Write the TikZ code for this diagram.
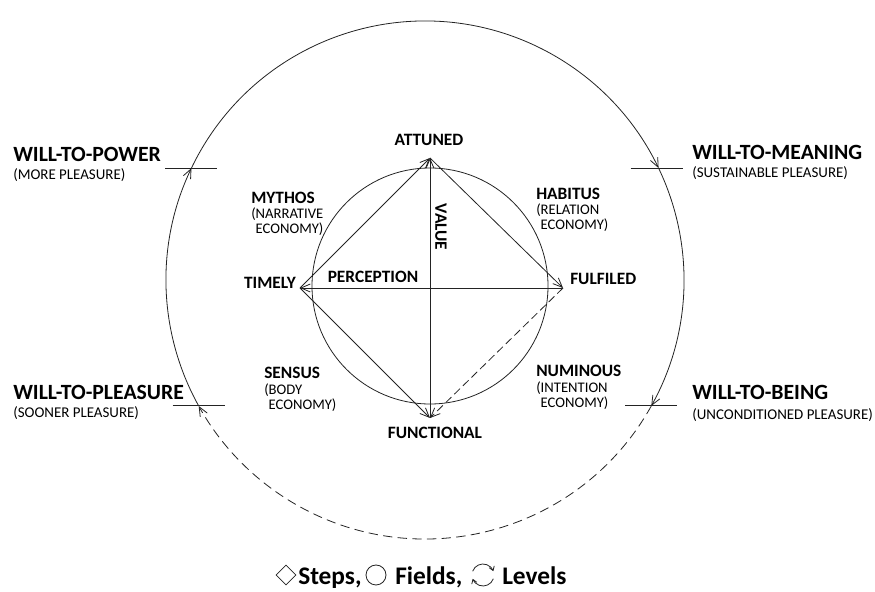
\documentclass[tikz,border=0pt]{standalone}
\usepackage{fontspec}
\setmainfont{Carlito}
\usepackage{xcolor}
\usepackage{tikz}
\usetikzlibrary{arrows.meta, positioning, calc, shapes.geometric}
\definecolor{ink}{RGB}{35, 35, 35}

\begin{document}
\begin{tikzpicture}[
    x=0.75pt, y=0.75pt,
    >={Straight Barb[length=7pt, width=6pt]},
    will/.style={anchor=west, inner sep=0pt, font=\fontsize{16.3}{18}\selectfont\bfseries},
    wsub/.style={anchor=west, inner sep=0pt, font=\fontsize{11.2}{13}\selectfont},
    pnt/.style={inner sep=0pt, font=\fontsize{13}{15}\selectfont\bfseries},
    field/.style={anchor=north west, inner sep=0pt, font=\fontsize{13}{15}\selectfont\bfseries},
    fsub/.style={anchor=north west, inner sep=0pt, align=left,
      font=\fontsize{11}{8.4}\selectfont},
    line/.style={line width=0.6pt, draw=ink},
    ring/.style={line, ->},
    side/.style={line, ->},
    tick/.style={line width=0.8pt, draw=ink},
    leg/.style={anchor=base west, inner sep=0pt, font=\fontsize{19}{21}\selectfont\bfseries},
    icon/.style={draw=ink, line width=0.6pt, inner sep=0pt}
  ]
  \useasboundingbox (0,0) rectangle (875,592);

  % outer ring: the four wills
  \coordinate (oc) at (425,312);
  \coordinate (pw) at ($(oc)+(154.4:259)$);
  \coordinate (mn) at ($(oc)+(25.6:259)$);
  \coordinate (bg) at ($(oc)+(-29.1:259)$);
  \coordinate (pl) at ($(oc)+(209.1:259)$);

  \draw[ring] (pl) arc[start angle=209.1, end angle=154.4, radius=259];
  \draw[ring] (pw) arc[start angle=154.4, end angle=25.6, radius=259];
  \draw[ring] (mn) arc[start angle=25.6, end angle=-29.1, radius=259];
  \draw[ring, dash pattern=on 7pt off 4pt] (bg) arc[start angle=330.9, end angle=209.1, radius=259];

  \draw[tick] (pw) +(-26,0) -- +(26,0);
  \draw[tick] (mn) +(-28,0) -- +(24,0);
  \draw[tick] (bg) +(-26,0) -- +(26,0);
  \draw[tick] (pl) +(-26,0) -- +(26,0);

  \node[will] (power) at (13,438) {WILL-TO-POWER};
  \node[wsub] (powers) at (13,417) {(MORE PLEASURE)};
  \node[will] (meaning) at (692,440) {WILL-TO-MEANING};
  \node[wsub] (meanings) at (692,419) {(SUSTAINABLE PLEASURE)};
  \node[will] (pleasure) at (13,200) {WILL-TO-PLEASURE};
  \node[wsub] (pleasures) at (13,179) {(SOONER PLEASURE)};
  \node[will] (being) at (692,200) {WILL-TO-BEING};
  \node[wsub] (beings) at (692,177) {(UNCONDITIONED PLEASURE)};

  % inner field and steps
  \coordinate (ic) at (430,306);
  \draw[line] (ic) circle[radius=118];

  \coordinate (att) at (430,434);
  \coordinate (tim) at (300,304);
  \coordinate (ful) at (563,304);
  \coordinate (fun) at (430,174);

  \draw[side] (tim) -- (att);
  \draw[side] (att) -- (ful);
  \draw[side] (tim) -- (fun);
  \draw[side, dash pattern=on 6pt off 3pt] (ful) -- (fun);
  \draw[side] (fun) -- (att);
  \draw[side] (ful) -- (tim);

  \node[pnt] (attl) at (429,452) {ATTUNED};
  \node[pnt, anchor=east] (timl) at (296,309) {TIMELY};
  \node[pnt, anchor=west] (full) at (570,313) {FULFILED};
  \node[pnt] (funl) at (435,159) {FUNCTIONAL};
  \node[pnt] (perc) at (373,315) {PERCEPTION};
  \node[pnt, rotate=-90] (val) at (441,365) {VALUE};

  \node[field] (myth) at (251,400) {MYTHOS};
  \node[fsub] (myths) at (251,384) {(NARRATIVE\\\hphantom{(}ECONOMY)};
  \node[field] (hab) at (536,404) {HABITUS};
  \node[fsub] (habs) at (536,388) {(RELATION\\\hphantom{(}ECONOMY)};
  \node[field] (sens) at (264,225) {SENSUS};
  \node[fsub] (senss) at (264,208) {(BODY\\\hphantom{(}ECONOMY)};
  \node[field] (num) at (536,227) {NUMINOUS};
  \node[fsub] (nums) at (536,210) {(INTENTION\\\hphantom{(}ECONOMY)};

  % legend
  \node[icon, diamond, minimum size=15pt] (dia) at (286,17) {};
  \node[leg] (steps) at (298,7) {Steps,};
  \node[icon, circle, minimum size=15pt] (cir) at (376,17) {};
  \node[leg] (fields) at (395,7) {Fields,};
  \coordinate (lp) at (483,17);
  \draw[icon, -{Straight Barb[length=3pt, width=4pt]}] ($(lp)+(160:11)$) arc[start angle=160, end angle=20, radius=11];
  \draw[icon, -{Straight Barb[length=3pt, width=4pt]}] ($(lp)+(-20:11)$) arc[start angle=-20, end angle=-160, radius=11];
  \node[leg] (levels) at (502,7) {Levels};
\end{tikzpicture}
\end{document}
